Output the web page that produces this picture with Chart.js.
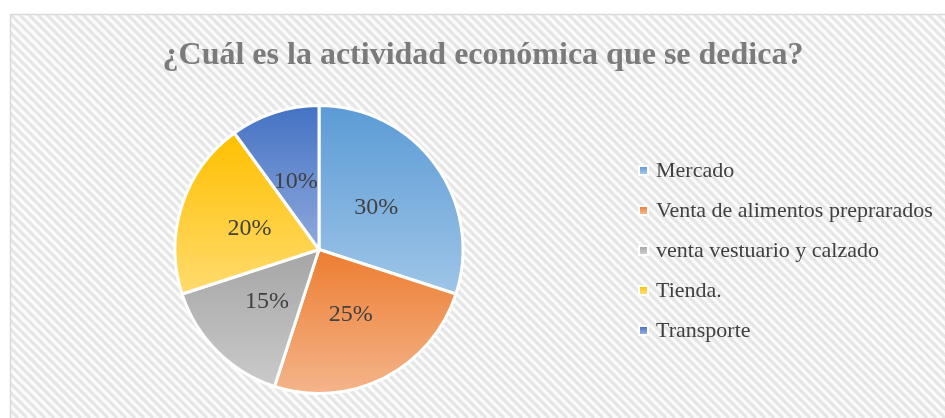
<!DOCTYPE html>
<html>
<head>
<meta charset="utf-8">
<script src="https://cdn.jsdelivr.net/npm/chart.js@4.4.1/dist/chart.umd.min.js"></script>
<style>
  html, body { margin: 0; padding: 0; background: #ffffff; }
  #wrap { width: 945px; height: 418px; position: relative; }
</style>
</head>
<body>
<div id="wrap"><canvas id="c" width="945" height="418"></canvas></div>
<script>
const titleText = '¿Cuál es la actividad económica que se dedica?';
const categories = ['Mercado', 'Venta de alimentos preprarados', 'venta vestuario y calzado', 'Tienda.', 'Transporte'];
const values = [30, 25, 15, 20, 10];
const topColors = ['#5b9bd5', '#ed7d31', '#a5a5a5', '#ffc000', '#4472c4'];
const bottomColors = ['#9fc5e8', '#f4b48a', '#cacaca', '#ffdb6e', '#8fa9dc'];

const total = values.reduce((a, b) => a + b, 0);

function arcYExtent(el) {
  const r = el.outerRadius;
  const a0 = el.startAngle, a1 = el.endAngle;
  let ys = [el.y, el.y + r * Math.sin(a0), el.y + r * Math.sin(a1)];
  const has = (ang) => {
    for (let k = -2; k <= 2; k++) {
      const t = ang + k * 2 * Math.PI;
      if (t >= a0 && t <= a1) return true;
    }
    return false;
  };
  if (has(-Math.PI / 2)) ys.push(el.y - r);
  if (has(Math.PI / 2)) ys.push(el.y + r);
  return [Math.min(...ys), Math.max(...ys)];
}

const bgPlugin = {
  id: 'bg',
  beforeDraw(chart) {
    const ctx = chart.ctx;
    const W = chart.width, H = chart.height;
    ctx.save();
    ctx.fillStyle = '#ffffff';
    ctx.fillRect(0, 0, W, H);
    const bx = 10, by = 14;
    ctx.beginPath();
    ctx.rect(bx, by, W - bx + 5, H - by + 5);
    ctx.clip();
    ctx.fillStyle = '#fbfbfb';
    ctx.fillRect(bx, by, W, H);
    ctx.strokeStyle = '#e6e6e6';
    ctx.lineWidth = 3.2;
    const period = 9;
    for (let s = -H; s < W + H; s += period) {
      ctx.beginPath();
      ctx.moveTo(s, 0);
      ctx.lineTo(s + H, H);
      ctx.stroke();
    }
    ctx.restore();
    ctx.save();
    ctx.strokeStyle = '#d9d9d9';
    ctx.lineWidth = 1.5;
    ctx.strokeRect(bx + 0.5, by + 0.5, W, H);
    ctx.restore();
  },
  beforeDatasetsDraw(chart) {
    const ctx = chart.ctx;
    const meta = chart.getDatasetMeta(0);
    meta.data.forEach((el, i) => {
      const [y0, y1] = arcYExtent(el);
      const g = ctx.createLinearGradient(0, y0, 0, y1);
      g.addColorStop(0, topColors[i]);
      g.addColorStop(1, bottomColors[i]);
      el.options.backgroundColor = g;
    });
  },
  afterDraw(chart) {
    const ctx = chart.ctx;
    ctx.save();
    // title
    ctx.fillStyle = '#7b7b7b';
    ctx.font = 'bold 32px "Liberation Serif", "Times New Roman", serif';
    ctx.textAlign = 'center';
    ctx.textBaseline = 'middle';
    ctx.fillText(titleText, 483, 56);
    // data labels
    const meta = chart.getDatasetMeta(0);
    ctx.font = '24px "Liberation Serif", "Times New Roman", serif';
    ctx.fillStyle = '#404040';
    meta.data.forEach((el, i) => {
      const p = el.tooltipPosition();
      const pct = Math.round(values[i] / total * 100) + '%';
      ctx.fillText(pct, p.x - 1, p.y + 1);
    });
    // legend
    ctx.textAlign = 'left';
    ctx.font = '22px "Liberation Serif", "Times New Roman", serif';
    categories.forEach((name, i) => {
      const y = 170 + i * 40;
      ctx.fillStyle = '#ffffff';
      ctx.fillRect(638, y - 5, 11, 11);
      const g = ctx.createLinearGradient(0, y - 3.5, 0, y + 3.5);
      g.addColorStop(0, topColors[i]);
      g.addColorStop(1, bottomColors[i]);
      ctx.fillStyle = g;
      ctx.fillRect(640, y - 3, 7, 7);
      ctx.fillStyle = '#404040';
      ctx.fillText(name, 656, y + 1);
    });
    ctx.restore();
  }
};

new Chart(document.getElementById('c'), {
  type: 'pie',
  data: {
    labels: categories,
    datasets: [{
      data: values,
      backgroundColor: topColors,
      borderColor: '#ffffff',
      borderWidth: 3
    }]
  },
  options: {
    responsive: false,
    animation: false,
    events: [],
    layout: { padding: { top: 104, bottom: 23, left: 169, right: 476 } },
    plugins: {
      legend: { display: false },
      title: { display: false },
      tooltip: { enabled: false }
    }
  },
  plugins: [bgPlugin]
});
</script>
</body>
</html>
